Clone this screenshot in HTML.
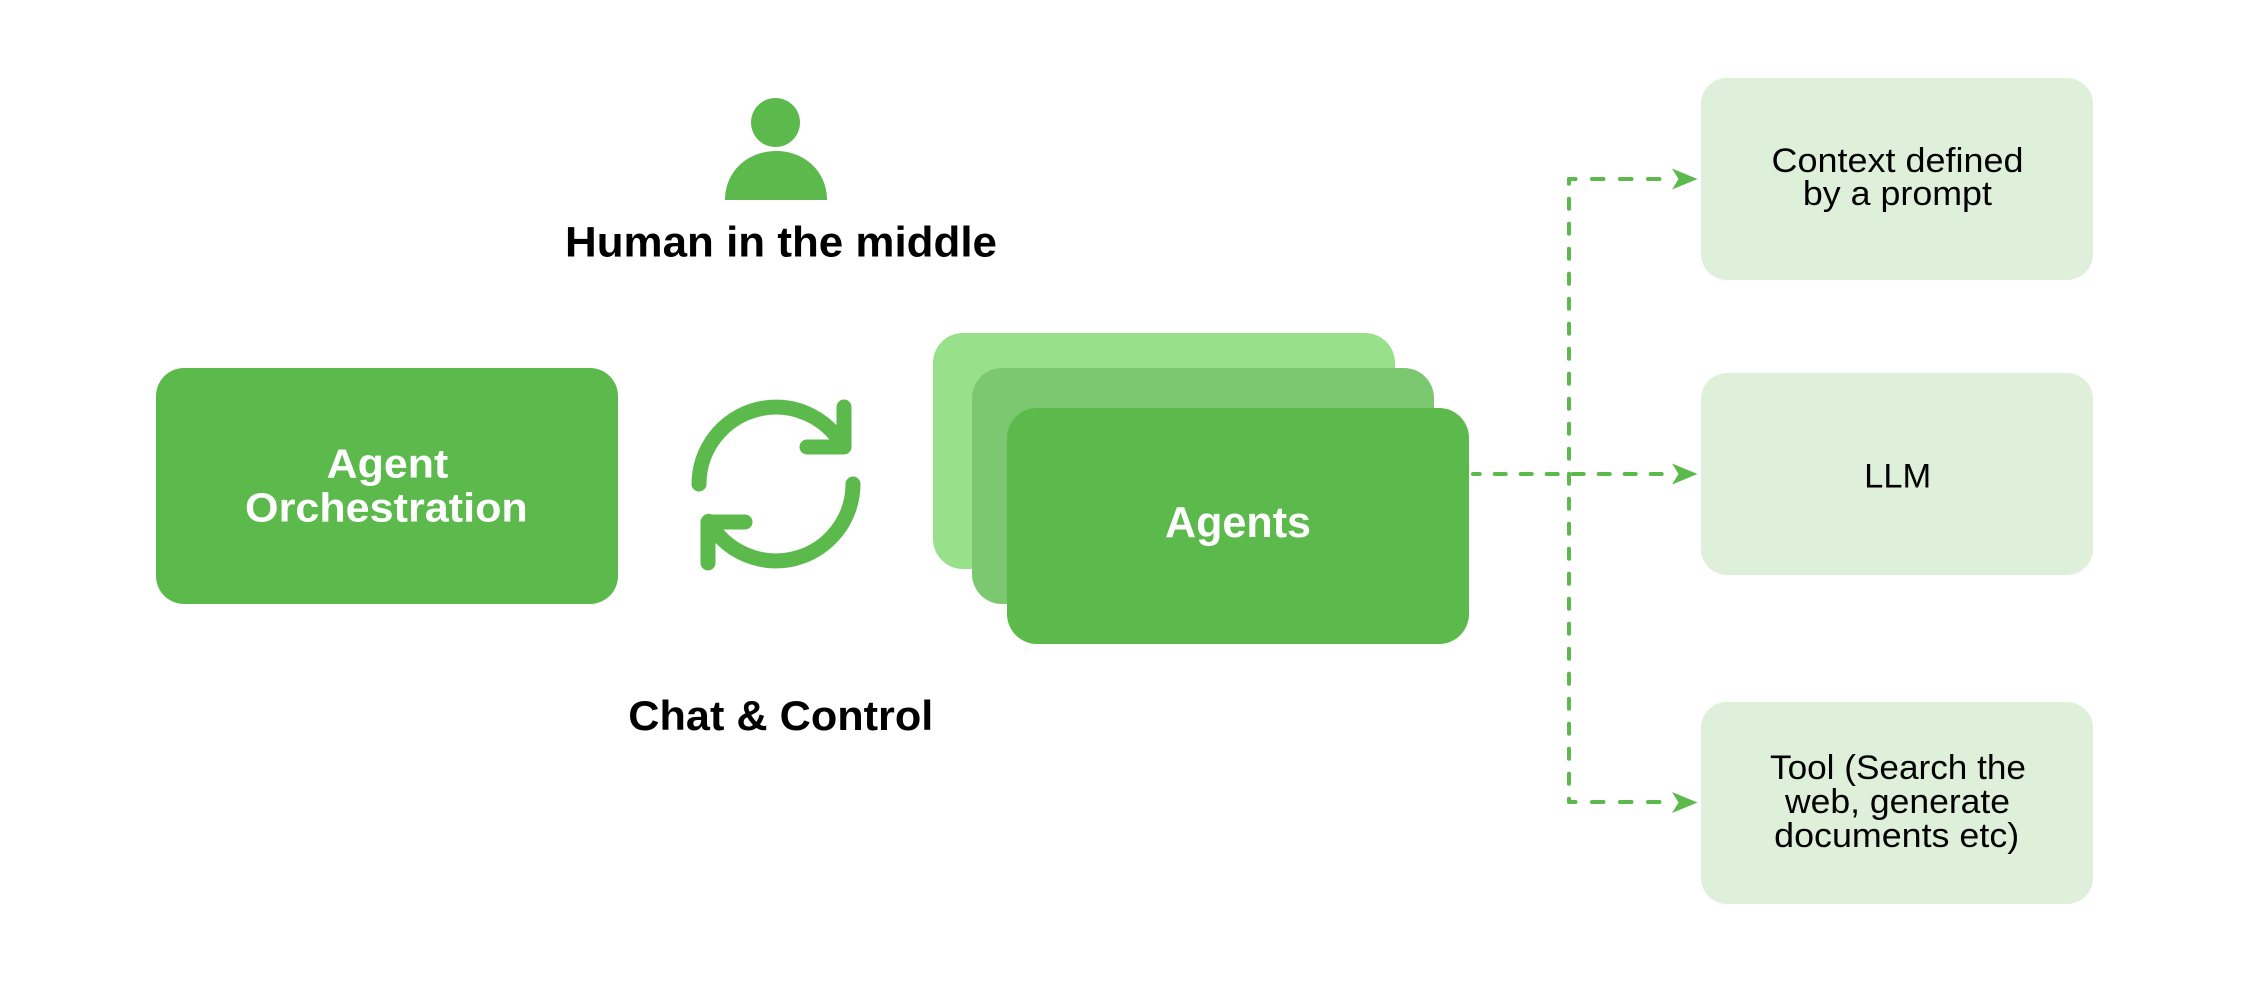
<!DOCTYPE html>
<html>
<head>
<meta charset="utf-8">
<style>
  html, body { margin: 0; padding: 0; background: #ffffff; }
  body { width: 2250px; height: 981px; overflow: hidden; }
  svg { display: block; }
  text { font-family: "Liberation Sans", Arial, sans-serif; }
</style>
</head>
<body>
<svg width="2250" height="981" viewBox="0 0 2250 981" xmlns="http://www.w3.org/2000/svg">
  <rect x="0" y="0" width="2250" height="981" fill="#ffffff"/>

  <!-- Person icon -->
  <circle cx="775.5" cy="122.5" r="24.5" fill="#5cb94c"/>
  <path d="M725,200 C725,171 748,151 776,151 C804,151 827,171 827,200 Z" fill="#5cb94c"/>
  <text x="781" y="256.7" font-size="43" font-weight="bold" fill="#000" text-anchor="middle" textLength="432" lengthAdjust="spacingAndGlyphs">Human in the middle</text>

  <!-- Agent Orchestration -->
  <rect x="156" y="368" width="462" height="236" rx="28" ry="28" fill="#5cb94c"/>
  <text x="387.5" y="477.5" font-size="41" font-weight="bold" fill="#ffffff" text-anchor="middle" textLength="121.6" lengthAdjust="spacingAndGlyphs">Agent</text>
  <text x="386.4" y="521.7" font-size="41" font-weight="bold" fill="#ffffff" text-anchor="middle" textLength="282.7" lengthAdjust="spacingAndGlyphs">Orchestration</text>

  <!-- Refresh icon -->
  <g fill="none" stroke="#5cb94c" stroke-width="15" stroke-linecap="round" stroke-linejoin="round">
    <path d="M699,484 A77,77 0 0 1 843.3,446.7"/>
    <polyline points="844,407 844,447 807,447"/>
    <path d="M853,484 A77,77 0 0 1 708.7,521.3"/>
    <polyline points="708,563 708,522 745,522"/>
  </g>
  <text x="780.8" y="730" font-size="42" font-weight="bold" fill="#000" text-anchor="middle" textLength="305" lengthAdjust="spacingAndGlyphs">Chat &amp; Control</text>

  <!-- Agents stack -->
  <rect x="933" y="333" width="462" height="236" rx="30" ry="30" fill="#98e18a"/>
  <rect x="972" y="368" width="462" height="236" rx="30" ry="30" fill="#7cc870"/>
  <rect x="1007" y="408" width="462" height="236" rx="30" ry="30" fill="#5cb94c"/>
  <text x="1238" y="537" font-size="44" font-weight="bold" fill="#ffffff" text-anchor="middle" textLength="146" lengthAdjust="spacingAndGlyphs">Agents</text>

  <!-- Dashed connectors -->
  <g fill="none" stroke="#5cb94c" stroke-width="4" stroke-linecap="round">
    <path d="M1473,474 H1673" stroke-dasharray="11 15" stroke-dashoffset="4.3"/>
    <path d="M1569,179 V802" stroke-dasharray="10 15" stroke-dashoffset="5.3"/>
    <path d="M1569,179 H1673" stroke-dasharray="11.5 16.5" stroke-dashoffset="5"/>
    <path d="M1569,802 H1673" stroke-dasharray="11.5 16.5" stroke-dashoffset="5"/>
  </g>
  <g fill="#5cb94c">
    <polygon points="1697.5,179 1672,168.5 1678.5,179 1672,189.5"/>
    <polygon points="1697.5,474 1672,463.5 1678.5,474 1672,484.5"/>
    <polygon points="1697.5,802.5 1672,792 1678.5,802.5 1672,813"/>
  </g>

  <!-- Right boxes -->
  <rect x="1701" y="78" width="392" height="202" rx="26" ry="26" fill="#dff0da"/>
  <rect x="1701" y="373" width="392" height="202" rx="26" ry="26" fill="#dff0da"/>
  <rect x="1701" y="702" width="392" height="202" rx="26" ry="26" fill="#dff0da"/>

  <text x="1897.5" y="172" font-size="34" fill="#000" text-anchor="middle" textLength="252" lengthAdjust="spacingAndGlyphs">Context defined</text>
  <text x="1897.4" y="205" font-size="34" fill="#000" text-anchor="middle" textLength="189" lengthAdjust="spacingAndGlyphs">by a prompt</text>

  <text x="1897.7" y="487.3" font-size="34" fill="#000" text-anchor="middle" textLength="67" lengthAdjust="spacingAndGlyphs">LLM</text>

  <text x="1898" y="779" font-size="34" fill="#000" text-anchor="middle" textLength="256" lengthAdjust="spacingAndGlyphs">Tool (Search the</text>
  <text x="1897.5" y="813" font-size="34" fill="#000" text-anchor="middle" textLength="225" lengthAdjust="spacingAndGlyphs">web, generate</text>
  <text x="1896.7" y="847" font-size="34" fill="#000" text-anchor="middle" textLength="245" lengthAdjust="spacingAndGlyphs">documents etc)</text>
</svg>
</body>
</html>
